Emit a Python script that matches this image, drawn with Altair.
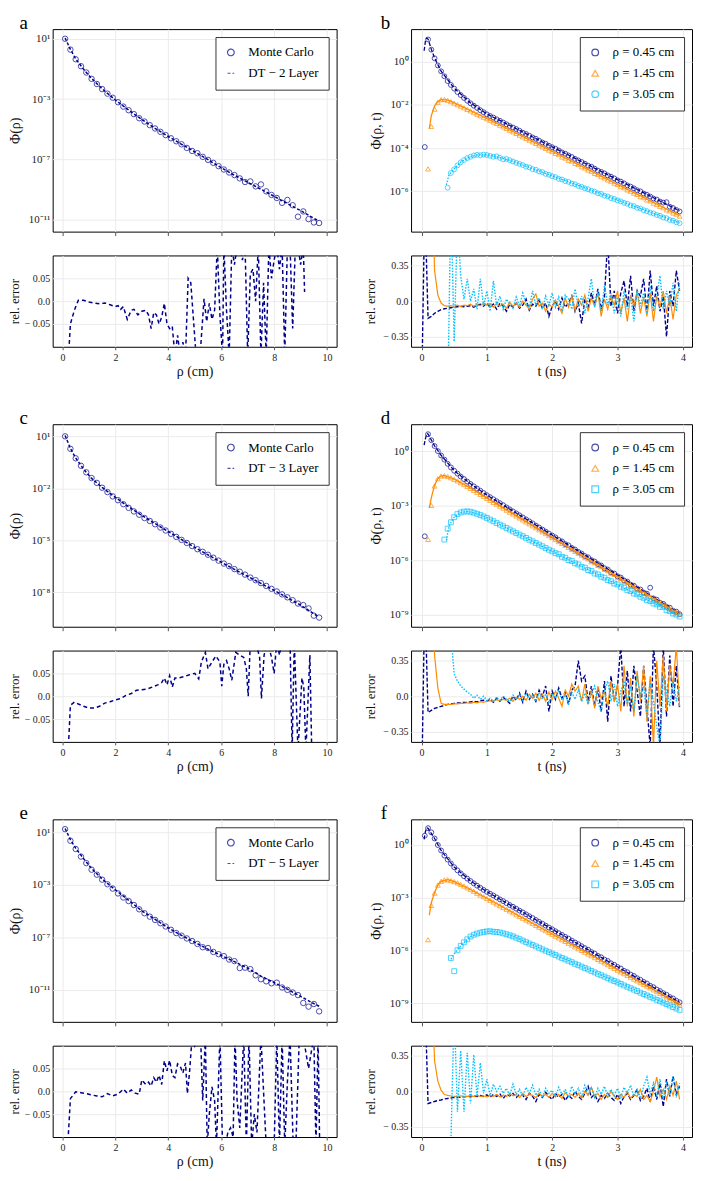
import altair as alt
import pandas as pd

NAVY = "#00008B"
ORANGE = "#FF8C00"
SKY = "#00BFFF"
SERIF = "Liberation Serif"

# ---------------- left column: steady-state  ----------------
RHO = [0.1, 0.3, 0.5, 0.7, 0.9, 1.1, 1.3, 1.5, 1.7, 1.9,
       2.1, 2.3, 2.5, 2.7, 2.9, 3.1, 3.3, 3.5, 3.7, 3.9,
       4.1, 4.3, 4.5, 4.7, 4.9, 5.1, 5.3, 5.5, 5.7, 5.9,
       6.1, 6.3, 6.5, 6.7, 6.9, 7.1, 7.3, 7.5, 7.7, 7.9,
       8.1, 8.3, 8.5, 8.7, 8.9, 9.1, 9.3, 9.5, 9.7]

# log10 of Phi(rho), Monte Carlo
MC_A = [1.0, 0.28, -0.36, -0.82, -1.24, -1.66, -2.0, -2.34, -2.64, -2.91,
        -3.21, -3.5, -3.74, -4.0, -4.27, -4.49, -4.73, -4.95, -5.17, -5.39,
        -5.6, -5.8, -6.0, -6.24, -6.44, -6.59, -6.83, -7.03, -7.23, -7.45,
        -7.67, -7.87, -8.04, -8.26, -8.5, -8.46, -8.79, -8.66, -9.12, -9.36,
        -9.56, -9.88, -9.69, -10.04, -10.8, -10.45, -10.96, -11.18, -11.22]
MC_C = [1.0, 0.28, -0.27, -0.7, -1.08, -1.41, -1.69, -1.97, -2.22, -2.47,
        -2.69, -2.92, -3.13, -3.34, -3.53, -3.72, -3.89, -4.08, -4.27, -4.44,
        -4.63, -4.81, -4.98, -5.16, -5.34, -5.52, -5.67, -5.84, -6.01, -6.18,
        -6.35, -6.5, -6.67, -6.82, -6.99, -7.16, -7.31, -7.48, -7.64, -7.81,
        -7.96, -8.13, -8.3, -8.47, -8.66, -8.75, -8.94, -9.36, -9.47]
MC_E = [1.25, 0.37, -0.26, -0.84, -1.34, -1.84, -2.22, -2.6, -2.95, -3.28,
        -3.65, -3.96, -4.23, -4.53, -4.86, -5.16, -5.42, -5.67, -5.92, -6.17,
        -6.42, -6.67, -6.87, -7.08, -7.28, -7.5, -7.75, -7.81, -8.11, -8.28,
        -8.43, -8.69, -8.81, -9.34, -9.31, -9.42, -9.89, -10.19, -10.35, -10.5,
        -10.45, -10.82, -11.0, -11.2, -11.4, -12.0, -12.28, -12.08, -12.64]

# diffusion theory curves (rho, log10 Phi)
DT_A = [(0.1, 1.05), (0.3, 0.3), (0.5, -0.33), (0.8, -1.03), (1.1, -1.63), (1.5, -2.32),
        (2.0, -3.06), (2.5, -3.73), (3.0, -4.36), (3.5, -4.94), (4.0, -5.48), (4.5, -6.0),
        (5.0, -6.5), (5.5, -7.02), (6.0, -7.55), (6.5, -8.05), (7.0, -8.52), (7.5, -8.98),
        (8.0, -9.45), (8.5, -9.93), (9.0, -10.4), (9.5, -10.9), (9.65, -11.05)]
DT_C = [(0.1, 1.05), (0.3, 0.3), (0.5, -0.25), (0.8, -0.9), (1.1, -1.43), (1.5, -1.95),
        (2.0, -2.53), (2.5, -3.07), (3.0, -3.57), (3.5, -4.04), (4.0, -4.5), (4.5, -4.96),
        (5.0, -5.42), (5.5, -5.85), (6.0, -6.27), (6.5, -6.69), (7.0, -7.09), (7.5, -7.5),
        (8.0, -7.9), (8.5, -8.32), (9.0, -8.75), (9.5, -9.25), (9.7, -9.45)]
DT_E = [(0.1, 1.3), (0.3, 0.45), (0.5, -0.2), (0.8, -1.0), (1.1, -1.75), (1.5, -2.55),
        (2.0, -3.38), (2.5, -4.17), (3.0, -4.98), (3.5, -5.62), (4.0, -6.28), (4.5, -6.85),
        (5.0, -7.38), (5.5, -7.9), (6.0, -8.38), (6.5, -8.85), (7.0, -9.35), (7.5, -9.95),
        (8.0, -10.45), (8.5, -10.95), (9.0, -11.5), (9.5, -12.05), (9.7, -12.25)]

# relative error (rho, value)
RES_A = [(0.15, -0.2), (0.3, -0.05), (0.45, -0.02), (0.6, 0.002), (0.8, 0.002), (1.0, -0.002),
         (1.2, -0.004), (1.4, -0.006), (1.6, -0.004), (1.8, -0.008), (2.0, -0.012), (2.1, -0.01),
         (2.2, -0.018), (2.3, -0.012), (2.45, -0.04), (2.6, -0.02), (2.7, -0.018), (2.85, -0.03),
         (3.0, -0.022), (3.15, -0.02), (3.25, -0.03), (3.35, -0.06), (3.45, -0.025), (3.55, -0.03),
         (3.65, -0.05), (3.75, -0.035), (3.85, -0.005), (3.95, -0.05), (4.05, -0.06), (4.15, -0.055),
         (4.25, -0.12), (4.35, -0.075), (4.45, -0.12), (4.55, -0.09), (4.65, -0.12), (4.75, 0.05),
         (4.85, 0.04), (4.95, -0.04), (5.05, -0.12), (5.2, -0.12), (5.35, 0.005), (5.45, -0.045),
         (5.55, -0.005), (5.65, -0.04), (5.75, -0.02), (5.85, 0.12), (5.95, -0.03), (6.05, -0.12),
         (6.1, 0.12), (6.2, -0.02), (6.3, -0.12), (6.4, 0.12), (6.5, 0.08), (6.6, 0.12), (6.7, 0.12),
         (6.8, 0.09), (6.9, 0.12), (7.0, -0.12), (7.1, 0.06), (7.2, 0.07), (7.3, 0.0), (7.4, 0.12),
         (7.5, -0.12), (7.6, 0.04), (7.7, -0.12), (7.8, 0.12), (7.9, 0.05), (8.0, 0.09), (8.1, 0.12),
         (8.2, 0.07), (8.3, 0.12), (8.4, -0.12), (8.5, 0.12), (8.6, 0.12), (8.7, -0.06), (8.8, 0.12),
         (8.9, 0.12), (9.0, 0.08), (9.1, 0.12), (9.15, 0.02)]
RES_C = [(0.15, -0.2), (0.3, -0.02), (0.45, -0.013), (0.6, -0.017), (0.8, -0.022), (1.0, -0.026),
         (1.2, -0.026), (1.4, -0.022), (1.6, -0.015), (1.8, -0.012), (2.0, -0.008), (2.2, -0.005),
         (2.4, 0.002), (2.6, 0.006), (2.8, 0.013), (3.0, 0.014), (3.2, 0.016), (3.4, 0.02),
         (3.6, 0.025), (3.75, 0.03), (3.85, 0.04), (3.95, 0.025), (4.05, 0.045), (4.15, 0.02),
         (4.25, 0.04), (4.4, 0.04), (4.6, 0.043), (4.8, 0.047), (5.0, 0.05), (5.15, 0.038),
         (5.25, 0.075), (5.4, 0.096), (5.5, 0.06), (5.65, 0.075), (5.8, 0.088), (5.95, 0.075),
         (6.02, 0.022), (6.1, 0.07), (6.2, 0.078), (6.3, 0.06), (6.4, 0.035), (6.55, 0.096),
         (6.7, 0.09), (6.85, 0.085), (6.95, 0.06), (7.02, 0.0), (7.1, 0.12), (7.3, 0.12),
         (7.45, 0.085), (7.52, -0.005), (7.62, 0.09), (7.75, 0.12), (7.9, 0.085), (8.0, 0.05),
         (8.1, 0.12), (8.2, 0.09), (8.3, 0.12), (8.6, 0.12), (8.68, -0.12), (8.76, 0.12),
         (8.9, -0.12), (9.05, 0.04), (9.12, 0.02), (9.2, -0.12), (9.35, 0.09), (9.42, -0.12)]
RES_E = [(0.12, -0.2), (0.3, -0.016), (0.5, -0.001), (0.7, -0.003), (0.9, -0.005), (1.1, -0.008),
         (1.3, -0.01), (1.5, -0.012), (1.7, -0.005), (1.9, -0.01), (2.1, -0.006), (2.3, 0.005),
         (2.45, -0.004), (2.6, 0.003), (2.75, -0.004), (2.9, -0.006), (3.0, 0.025), (3.15, 0.015),
         (3.25, 0.02), (3.35, 0.012), (3.45, 0.03), (3.55, 0.02), (3.65, 0.035), (3.75, 0.015),
         (3.85, 0.067), (3.95, 0.045), (4.05, 0.068), (4.15, 0.035), (4.25, 0.03), (4.35, 0.06),
         (4.45, 0.055), (4.55, 0.04), (4.65, 0.062), (4.72, -0.005), (4.8, 0.04), (4.9, 0.12),
         (5.0, 0.1), (5.1, 0.12), (5.22, 0.12), (5.3, -0.02), (5.4, 0.12), (5.47, -0.12),
         (5.55, -0.05), (5.65, 0.01), (5.75, -0.02), (5.82, -0.12), (5.95, 0.12), (6.05, -0.12),
         (6.15, -0.12), (6.25, -0.09), (6.35, -0.08), (6.45, -0.1), (6.52, 0.12), (6.6, -0.02),
         (6.7, -0.08), (6.85, 0.12), (6.95, -0.12), (7.05, 0.12), (7.15, -0.12), (7.25, -0.05),
         (7.35, -0.09), (7.5, 0.12), (7.62, -0.025), (7.7, -0.12), (7.85, -0.12), (8.0, -0.12),
         (8.1, 0.12), (8.2, -0.12), (8.3, 0.12), (8.4, -0.12), (8.5, 0.02), (8.6, 0.12),
         (8.72, -0.12), (8.82, -0.12), (8.95, 0.12), (9.1, 0.12), (9.3, 0.05), (9.5, 0.12),
         (9.58, -0.12), (9.66, 0.12), (9.72, -0.12)]

# ---------------- right column: time resolved ----------------
TG = [0.05, 0.1, 0.15, 0.2, 0.25, 0.3, 0.35, 0.4, 0.45, 0.5,
      0.55, 0.6, 0.65, 0.7, 0.75, 0.8, 0.85, 0.9, 0.95, 1.0,
      1.05, 1.1, 1.15, 1.2, 1.25, 1.3, 1.35, 1.4, 1.45, 1.5,
      1.55, 1.6, 1.65, 1.7, 1.75, 1.8, 1.85, 1.9, 1.95, 2.0,
      2.05, 2.1, 2.15, 2.2, 2.25, 2.3, 2.35, 2.4, 2.45, 2.5,
      2.55, 2.6, 2.65, 2.7, 2.75, 2.8, 2.85, 2.9, 2.95, 3.0,
      3.05, 3.1, 3.15, 3.2, 3.25, 3.3, 3.35, 3.4, 3.45, 3.5,
      3.55, 3.6, 3.65, 3.7, 3.75, 3.8, 3.85, 3.9, 3.95]
N = None
# log10 Phi(rho, t) Monte Carlo, panel b
B_N = [-3.95, 1.02, 0.55, 0.15, -0.18, -0.45, -0.68, -0.9, -1.08, -1.25,
       -1.41, -1.55, -1.68, -1.81, -1.93, -2.04, -2.14, -2.25, -2.34, -2.44,
       -2.52, -2.59, -2.67, -2.74, -2.82, -2.9, -2.98, -3.05, -3.12, -3.2,
       -3.29, -3.35, -3.43, -3.51, -3.57, -3.66, -3.74, -3.8, -3.89, -3.96,
       -4.03, -4.11, -4.2, -4.26, -4.34, -4.41, -4.5, -4.57, -4.64, -4.72,
       -4.81, -4.86, -4.95, -5.04, -5.1, -5.17, -5.26, -5.32, -5.4, -5.49,
       -5.55, -5.63, -5.72, -5.78, -5.86, -5.95, -6.0, -6.1, -6.16, -6.24,
       -6.33, -6.38, -6.47, -6.52, -6.5, -6.71, -6.77, -6.86, -6.93]
B_O = [N, -4.96, -3.0, -2.2, -1.88, -1.76, -1.75, -1.79, -1.85, -1.92,
       -1.99, -2.06, -2.14, -2.21, -2.28, -2.36, -2.43, -2.5, -2.57, -2.64,
       -2.71, -2.79, -2.86, -2.94, -3.02, -3.09, -3.17, -3.25, -3.32, -3.4,
       -3.48, -3.55, -3.63, -3.71, -3.78, -3.86, -3.94, -4.01, -4.09, -4.16,
       -4.24, -4.3, -4.41, -4.46, -4.56, -4.6, -4.71, -4.76, -4.86, -4.92,
       -5.01, -5.07, -5.17, -5.22, -5.32, -5.38, -5.47, -5.53, -5.62, -5.68,
       -5.78, -5.83, -5.93, -5.99, -6.08, -6.14, -6.24, -6.29, -6.39, -6.44,
       -6.54, -6.6, -6.69, -6.75, -6.85, -6.9, -7.0, -7.05, -7.14]
B_C = [N, N, N, N, N, N, N, -5.83, -5.15, -4.98,
       -4.8, -4.66, -4.55, -4.46, -4.4, -4.34, -4.31, -4.33, -4.3, -4.32,
       -4.36, -4.4, -4.38, -4.45, -4.52, -4.5, -4.56, -4.62, -4.68, -4.73,
       -4.78, -4.86, -4.89, -4.97, -5.0, -5.08, -5.11, -5.19, -5.23, -5.3,
       -5.34, -5.42, -5.45, -5.53, -5.56, -5.64, -5.67, -5.75, -5.79, -5.86,
       -5.9, -5.97, -6.01, -6.09, -6.12, -6.2, -6.23, -6.31, -6.35, -6.42,
       -6.46, -6.53, -6.57, -6.65, -6.68, -6.76, -6.79, -6.87, -6.91, -6.98,
       -7.02, -7.09, -7.13, -7.21, -7.24, -7.32, -7.35, -7.43, -7.47]
# panel d
D_N = [-4.67, 0.95, 0.62, 0.3, 0.02, -0.22, -0.45, -0.68, -0.88, -1.06,
       -1.22, -1.38, -1.52, -1.66, -1.79, -1.92, -2.04, -2.16, -2.29, -2.41,
       -2.52, -2.63, -2.74, -2.85, -2.96, -3.08, -3.19, -3.3, -3.41, -3.52,
       -3.63, -3.74, -3.85, -3.96, -4.08, -4.19, -4.3, -4.41, -4.52, -4.63,
       -4.73, -4.87, -4.95, -5.1, -5.17, -5.31, -5.4, -5.53, -5.62, -5.76,
       -5.83, -5.98, -6.06, -6.2, -6.28, -6.43, -6.5, -6.66, -6.72, -6.87,
       -6.94, -7.1, -7.17, -7.33, -7.39, -7.55, -7.6, -7.77, -7.83, -7.5,
       -8.09, -8.16, -8.33, -8.39, -8.55, -8.6, -8.77, -8.82, -8.96]
D_O = [N, -4.84, -2.97, -1.9, -1.5, -1.35, -1.33, -1.38, -1.45, -1.53,
       -1.62, -1.72, -1.82, -1.92, -2.03, -2.14, -2.25, -2.36, -2.47, -2.58,
       -2.69, -2.8, -2.9, -3.01, -3.12, -3.23, -3.34, -3.44, -3.55, -3.66,
       -3.77, -3.88, -3.98, -4.09, -4.2, -4.31, -4.42, -4.52, -4.63, -4.74,
       -4.85, -4.96, -5.06, -5.17, -5.28, -5.39, -5.5, -5.6, -5.71, -5.82,
       -5.91, -6.06, -6.12, -6.27, -6.34, -6.49, -6.56, -6.7, -6.77, -6.92,
       -6.99, -7.14, -7.2, -7.35, -7.42, -7.57, -7.64, -7.78, -7.85, -8.0,
       -8.07, -8.22, -8.28, -8.43, -8.5, -8.65, -8.72, -8.86, -8.95]
D_C = [N, N, N, N, N, N, -4.85, -4.25, -3.9, -3.62,
       -3.45, -3.36, -3.31, -3.3, -3.32, -3.37, -3.43, -3.5, -3.58, -3.66,
       -3.75, -3.84, -3.94, -4.03, -4.12, -4.21, -4.3, -4.4, -4.49, -4.58,
       -4.67, -4.76, -4.86, -4.95, -5.04, -5.13, -5.22, -5.32, -5.41, -5.5,
       -5.6, -5.66, -5.8, -5.85, -5.98, -6.03, -6.16, -6.22, -6.35, -6.4,
       -6.53, -6.58, -6.72, -6.77, -6.9, -6.95, -7.08, -7.14, -7.27, -7.32,
       -7.45, -7.5, -7.64, -7.69, -7.82, -7.87, -8.0, -8.06, -8.19, -8.24,
       -8.37, -8.42, -8.56, -8.55, -8.74, -8.79, -8.92, -8.98, -9.09]
# panel f
F_N = [0.51, 0.94, 0.7, 0.35, -0.02, -0.33, -0.62, -0.85, -1.07, -1.28,
       -1.46, -1.63, -1.79, -1.93, -2.07, -2.2, -2.33, -2.45, -2.57, -2.68,
       -2.79, -2.89, -3.0, -3.11, -3.21, -3.32, -3.43, -3.53, -3.64, -3.75,
       -3.85, -3.96, -4.07, -4.17, -4.28, -4.39, -4.49, -4.6, -4.71, -4.81,
       -4.92, -5.03, -5.13, -5.24, -5.34, -5.45, -5.56, -5.66, -5.77, -5.88,
       -5.97, -6.1, -6.19, -6.32, -6.4, -6.53, -6.61, -6.74, -6.83, -6.95,
       -7.04, -7.17, -7.25, -7.38, -7.46, -7.59, -7.68, -7.8, -7.89, -8.02,
       -8.1, -8.23, -8.32, -8.44, -8.53, -8.66, -8.74, -8.87, -8.96]
F_O = [N, -5.4, -3.45, -2.75, -2.3, -2.08, -2.0, -1.99, -2.04, -2.1,
       -2.17, -2.26, -2.35, -2.45, -2.55, -2.65, -2.76, -2.86, -2.96, -3.06,
       -3.16, -3.26, -3.37, -3.47, -3.57, -3.67, -3.77, -3.87, -3.98, -4.08,
       -4.18, -4.28, -4.38, -4.48, -4.59, -4.69, -4.79, -4.89, -4.99, -5.09,
       -5.2, -5.3, -5.4, -5.5, -5.6, -5.7, -5.81, -5.91, -6.01, -6.11,
       -6.21, -6.31, -6.42, -6.52, -6.62, -6.72, -6.82, -6.92, -7.03, -7.13,
       -7.23, -7.33, -7.43, -7.53, -7.64, -7.74, -7.84, -7.94, -8.04, -8.14,
       -8.25, -8.35, -8.45, -8.55, -8.65, -8.75, -8.86, -8.96, -9.06]
F_C = [N, N, N, N, N, N, N, N, -6.44, -7.19,
       -6.0, -5.75, -5.55, -5.38, -5.22, -5.12, -5.05, -5.0, -4.96, -4.93,
       -4.92, -4.95, -4.96, -4.99, -5.04, -5.09, -5.15, -5.21, -5.29, -5.37,
       -5.45, -5.54, -5.62, -5.7, -5.78, -5.86, -5.95, -6.03, -6.11, -6.19,
       -6.27, -6.36, -6.44, -6.52, -6.6, -6.68, -6.77, -6.85, -6.93, -7.01,
       -7.09, -7.18, -7.26, -7.34, -7.42, -7.5, -7.59, -7.67, -7.75, -7.83,
       -7.91, -8.0, -8.08, -8.16, -8.24, -8.32, -8.41, -8.49, -8.57, -8.65,
       -8.73, -8.82, -8.9, -8.98, -9.06, -9.14, -9.23, -9.31, -9.39]

# diffusion theory curves (t, log10 Phi)
DTB_N = [(0.04, 0.5), (0.06, 0.95), (0.08, 1.08), (0.1, 1.04), (0.15, 0.57), (0.2, 0.16),
         (0.3, -0.44), (0.5, -1.23), (0.75, -1.91), (1.0, -2.42), (2.0, -3.94), (3.0, -5.46), (3.95, -6.9)]
DTB_O = [(0.12, -3.1), (0.15, -2.5), (0.2, -2.05), (0.25, -1.85), (0.3, -1.76), (0.4, -1.78),
         (0.5, -1.91), (0.75, -2.27), (1.0, -2.63), (2.0, -4.15), (3.0, -5.68), (3.95, -7.12)]
DTB_C = [(0.38, -5.7), (0.42, -5.25), (0.5, -4.96), (0.6, -4.65), (0.7, -4.46), (0.85, -4.31),
         (1.0, -4.31), (1.2, -4.44), (1.4, -4.61), (2.0, -5.28), (3.0, -6.4), (3.95, -7.46)]
DTD_N = [(0.04, 0.35), (0.06, 0.7), (0.08, 0.98), (0.1, 0.96), (0.2, 0.31), (0.3, -0.21),
         (0.5, -1.05), (0.75, -1.78), (1.0, -2.4), (2.0, -4.6), (3.0, -6.8), (3.95, -8.93)]
DTD_O = [(0.12, -3.1), (0.15, -2.55), (0.2, -1.85), (0.25, -1.5), (0.3, -1.35), (0.35, -1.33),
         (0.5, -1.52), (0.75, -2.02), (1.0, -2.57), (2.0, -4.73), (3.0, -6.89), (3.95, -8.95)]
DTD_C = [(0.38, -4.9), (0.42, -4.1), (0.5, -3.62), (0.6, -3.36), (0.7, -3.3), (0.85, -3.42),
         (1.0, -3.65), (2.0, -5.5), (3.0, -7.34), (3.95, -9.08)]
DTF_N = [(0.04, 0.3), (0.06, 0.75), (0.08, 0.95), (0.1, 0.93), (0.2, 0.35), (0.3, -0.33),
         (0.5, -1.27), (0.75, -2.06), (1.0, -2.67), (2.0, -4.8), (3.0, -6.94), (3.95, -8.96)]
DTF_O = [(0.12, -4.0), (0.15, -3.3), (0.2, -2.72), (0.25, -2.3), (0.3, -2.08), (0.4, -1.99),
         (0.5, -2.1), (0.75, -2.55), (1.0, -3.05), (2.0, -5.08), (3.0, -7.11), (3.95, -9.05)]
DTF_C = [(0.45, -6.5), (0.5, -6.2), (0.6, -5.75), (0.75, -5.22), (0.9, -5.0), (1.05, -4.92),
         (1.2, -4.99), (1.4, -5.2), (2.0, -6.18), (3.0, -7.82), (3.95, -9.38)]

# relative error on TR = [0.0] + TG
TR = [0.0] + TG
RB_N = [-1.0,
        1.0, -0.17, -0.15, -0.12, -0.1, -0.085, -0.075, -0.07, -0.065, -0.06,
        -0.055, -0.05, -0.055, -0.05, -0.045, -0.06, -0.04, -0.03, -0.05, -0.02,
        -0.06, -0.03, -0.08, -0.02, -0.05, -0.1, -0.03, -0.06, -0.02, -0.07,
        -0.04, 0.02, -0.09, -0.03, -0.05, 0.01, -0.07, -0.02, -0.15, -0.05,
        0.0, -0.08, 0.03, -0.06, -0.02, 0.05, -0.1, -0.02, -0.22, 0.02,
        -0.06, 0.08, -0.04, 0.12, -0.08, 0.05, 0.6, -0.05, 0.1, -0.12,
        0.08, 0.2, -0.05, 0.25, -0.1, 0.1, 0.05, 0.22, -0.12, 0.3,
        -0.05, 0.15, -0.1, 0.05, -0.35, 0.1, -0.05, 0.3, 0.1]
RB_O = [N,
        N, N, 1.5, 0.3, 0.06, -0.02, -0.045, -0.05, -0.045, -0.05,
        -0.04, -0.055, -0.04, -0.045, -0.03, -0.05, -0.035, -0.045, -0.02, -0.04,
        -0.03, -0.06, -0.02, -0.05, -0.03, -0.07, -0.01, -0.05, -0.02, -0.06,
        0.0, -0.04, -0.08, 0.02, 0.07, -0.05, -0.02, -0.1, -0.03, -0.06,
        0.01, -0.05, -0.12, 0.03, -0.06, 0.05, -0.09, 0.02, -0.04, 0.06,
        -0.1, 0.03, -0.05, 0.08, -0.15, 0.02, -0.08, 0.05, -0.04, 0.1,
        -0.12, 0.03, -0.2, 0.06, -0.05, 0.1, -0.12, 0.04, -0.15, 0.08,
        -0.2, 0.05, -0.06, 0.1, -0.12, 0.05, -0.18, 0.06, 0.12]
RB_C = [N,
        N, N, N, N, N, N, N, -1.0, 1.0, -0.4,
        0.8, 0.25, 0.02, 0.22, 0.0, 0.12, -0.08, 0.22, -0.05, 0.1,
        -0.1, 0.2, -0.04, 0.05, -0.08, 0.02, -0.03, -0.07, 0.04, -0.05,
        0.08, -0.02, -0.06, 0.1, -0.04, 0.03, -0.08, 0.05, -0.04, 0.08,
        -0.06, 0.04, -0.1, 0.06, 0.02, -0.08, 0.12, -0.05, 0.05, -0.12,
        0.03, 0.22, -0.06, 0.1, -0.1, 0.15, -0.04, 0.08, -0.12, 0.04,
        -0.15, 0.1, -0.08, 0.05, -0.2, 0.12, -0.05, 0.08, -0.12, 0.15,
        -0.1, 0.05, 0.25, -0.08, 0.1, -0.05, 0.18, -0.1, 0.2]
RD_N = [-1.0,
        1.0, -0.16, -0.14, -0.12, -0.11, -0.1, -0.09, -0.08, -0.075, -0.07,
        -0.065, -0.065, -0.06, -0.06, -0.055, -0.05, -0.055, -0.045, -0.04, -0.05,
        -0.03, -0.06, -0.02, -0.05, -0.01, -0.04, -0.07, 0.0, -0.04, 0.03,
        -0.06, 0.05, -0.03, 0.02, -0.05, 0.06, 0.0, 0.1, -0.15, 0.05,
        -0.03, 0.08, -0.02, 0.04, -0.08, 0.06, 0.1, 0.35, 0.15, 0.2,
        -0.05, 0.1, -0.1, 0.08, -0.15, 0.15, -0.25, 0.2, -0.05, 0.1,
        0.5, -0.1, 0.25, -0.15, 0.3, 0.05, -0.2, 0.3, -0.1, -0.5,
        0.5, 0.1, -0.5, 0.5, -0.2, 0.4, -0.1, 0.3, -0.12]
RD_O = [N,
        N, N, 1.2, 0.4, 0.08, -0.07, -0.08, -0.08, -0.08, -0.075,
        -0.075, -0.07, -0.07, -0.065, -0.07, -0.06, -0.065, -0.055, -0.06, -0.05,
        -0.045, -0.05, -0.035, -0.045, -0.03, -0.04, -0.02, -0.05, -0.01, -0.03,
        0.0, -0.04, 0.02, -0.02, 0.03, -0.04, 0.02, -0.05, 0.04, -0.03,
        0.05, -0.02, -0.1, 0.06, 0.0, 0.12, 0.05, 0.1, -0.05, 0.12,
        -0.08, 0.06, -0.12, 0.1, -0.02, 0.05, -0.1, 0.15, -0.05, 0.12,
        -0.15, 0.3, -0.1, 0.18, -0.2, 0.25, -0.05, 0.3, -0.25, 0.2,
        -0.5, 0.35, -0.1, 0.4, -0.15, 0.3, 0.1, 0.5, -0.1]
RD_C = [N,
        N, N, N, N, N, N, N, N, 0.6, 0.22,
        0.15, 0.1, 0.07, 0.04, 0.02, -0.02, 0.01, -0.03, 0.0, -0.04,
        -0.02, -0.05, -0.01, -0.04, 0.0, -0.03, -0.05, 0.01, -0.03, 0.02,
        -0.04, 0.03, -0.02, 0.01, -0.05, 0.04, -0.03, 0.02, -0.06, 0.03,
        -0.02, 0.05, -0.04, 0.02, -0.07, 0.04, -0.03, 0.06, -0.05, 0.03,
        -0.08, 0.02, 0.1, -0.06, -0.15, 0.05, 0.15, -0.05, 0.12, -0.1,
        0.05, 0.15, -0.08, 0.1, -0.15, 0.2, 0.0, 0.1, -0.2, 0.15,
        -0.05, -0.3, -0.5, 0.2, 0.05, -0.1, 0.15, -0.05, 0.1]
RF_N = [N,
        1.0, -0.12, -0.11, -0.1, -0.09, -0.085, -0.075, -0.07, -0.065, -0.06,
        -0.06, -0.055, -0.055, -0.05, -0.05, -0.045, -0.05, -0.04, -0.05, -0.035,
        -0.06, -0.03, -0.05, -0.025, -0.07, -0.03, -0.045, -0.02, -0.06, -0.03,
        -0.04, -0.08, -0.02, -0.05, -0.1, -0.03, -0.06, -0.01, -0.05, -0.08,
        -0.02, -0.06, -0.03, -0.09, -0.04, -0.07, 0.0, -0.05, -0.08, -0.02,
        0.05, -0.06, -0.03, -0.1, -0.04, -0.07, -0.02, -0.06, -0.09, -0.03,
        -0.12, -0.05, -0.02, -0.08, -0.04, 0.02, -0.09, -0.05, 0.03, -0.1,
        0.05, -0.08, 0.08, -0.15, 0.12, -0.05, 0.15, -0.03, 0.05]
RF_O = [N,
        N, N, 1.2, 0.3, 0.1, 0.01, -0.03, -0.04, -0.045, -0.05,
        -0.05, -0.045, -0.05, -0.05, -0.045, -0.05, -0.04, -0.05, -0.045, -0.055,
        -0.04, -0.05, -0.03, -0.055, -0.035, -0.05, -0.02, -0.045, -0.03, -0.06,
        -0.02, -0.05, -0.03, -0.04, -0.06, -0.02, -0.05, -0.03, -0.06, -0.02,
        -0.05, -0.03, -0.07, -0.01, -0.05, -0.03, -0.06, -0.02, -0.07, 0.0,
        -0.04, 0.04, -0.05, -0.02, -0.08, -0.03, -0.06, 0.0, -0.05, -0.08,
        -0.03, -0.06, 0.0, -0.07, -0.03, -0.05, 0.02, -0.08, -0.04, -0.1,
        0.0, 0.14, -0.05, 0.02, -0.08, 0.05, -0.04, 0.1, -0.08]
RF_C = [N,
        N, N, N, N, N, N, N, N, -0.5, 0.8,
        -0.2, 0.4, -0.2, 0.38, -0.12, 0.36, -0.05, 0.28, -0.02, 0.12,
        -0.04, 0.07, 0.0, 0.05, -0.02, 0.03, -0.04, 0.07, -0.03, 0.02,
        -0.05, 0.04, -0.02, 0.06, -0.04, 0.02, -0.06, 0.03, -0.02, 0.01,
        -0.05, 0.04, -0.03, 0.02, -0.06, 0.05, -0.02, 0.03, -0.05, 0.06,
        -0.02, 0.04, -0.06, 0.03, -0.03, 0.05, -0.05, 0.02, -0.04, 0.03,
        -0.06, 0.04, -0.02, 0.06, -0.05, 0.02, -0.07, 0.05, 0.14, -0.03,
        0.08, -0.05, 0.12, -0.08, 0.1, -0.04, 0.15, -0.06, 0.08]

RHO_LABELS = ["ρ = 0.45 cm", "ρ = 1.45 cm", "ρ = 3.05 cm"]

# ---------------- helpers ----------------
SUP = str.maketrans("0123456789-", "⁰¹²³⁴⁵⁶⁷⁸⁹⁻")
LW, RW, MH, RH = 286, 283, 204, 92


def pow_expr(exps):
    expr = "''"
    for e in exps:
        lab = "10" + str(e).translate(SUP)
        expr = f"round(log(datum.value)/LN10) == {e} ? '{lab}' : ({expr})"
    return expr


def legend():
    return alt.Legend(title=None, orient="top-right", offset=8, padding=9, rowPadding=7,
                      strokeColor="#333", fillColor="white", labelFont=SERIF, labelFontSize=13,
                      labelOffset=11, symbolSize=45, symbolStrokeWidth=1.2)


def letter_axis(letter, dx):
    # top axis carrying only the panel letter as its title
    return alt.Axis(orient="top", title=letter, labels=False, ticks=False, domain=False, grid=False,
                    titleX=dx, titleY=-1, titleAlign="left", titleBaseline="alphabetic",
                    titleAngle=0, titleFontSize=19, titleFont=SERIF, titleColor="black",
                    titleFontWeight="normal")


def left_main(letter, mc, dt, dt_label, lo, hi, exps):
    kinds = ["Monte Carlo", dt_label]
    mc_df = pd.DataFrame({"x": RHO, "y": [10 ** v for v in mc], "k": kinds[0]})
    dt_df = pd.DataFrame({"x": [p[0] for p in dt], "y": [10 ** p[1] for p in dt], "k": kinds[1]})
    xs = alt.Scale(domain=[-0.37, 10.36], nice=False, zero=False)
    xb = alt.X("x:Q", scale=xs, axis=alt.Axis(values=[0, 2, 4, 6, 8, 10], labels=False, title=None,
                                               ticks=True, tickSize=4, grid=True))
    xt = alt.X("x:Q", scale=xs, axis=letter_axis(letter, -34))
    ye = alt.Y("y:Q", scale=alt.Scale(type="log", domain=[10 ** lo, 10 ** hi], nice=False),
               axis=alt.Axis(values=[10.0 ** e for e in exps], labelExpr=pow_expr(exps),
                             title="Φ(ρ)", grid=True, ticks=False, minExtent=26, maxExtent=26,
                             titlePadding=4, labelFontSize=11))
    leg = legend()
    col = alt.Color("k:N", scale=alt.Scale(domain=kinds, range=[NAVY, NAVY]), legend=leg)
    pts = alt.Chart(mc_df).mark_point(filled=False, size=30, strokeWidth=1).encode(
        x=xb, y=ye, color=col,
        shape=alt.Shape("k:N", scale=alt.Scale(domain=kinds, range=["circle", "stroke"]), legend=leg))
    line = alt.Chart(dt_df).mark_line(strokeWidth=1.5).encode(
        x=xt, y=ye, color=col,
        strokeDash=alt.StrokeDash("k:N", scale=alt.Scale(domain=kinds, range=[[1, 0], [3, 2]]), legend=leg))
    return alt.layer(line, pts).resolve_axis(x="independent").properties(width=LW, height=MH)


def left_resid(res):
    df = pd.DataFrame({"x": [p[0] for p in res], "e": [p[1] for p in res]})
    return alt.Chart(df).mark_line(color=NAVY, strokeDash=[4, 3], strokeWidth=1.5, clip=True).encode(
        x=alt.X("x:Q", scale=alt.Scale(domain=[-0.37, 10.36], nice=False, zero=False),
                axis=alt.Axis(values=[0, 2, 4, 6, 8, 10], title="ρ (cm)", grid=True, tickSize=3,
                              labelFlush=False, titlePadding=2)),
        y=alt.Y("e:Q", scale=alt.Scale(domain=[-0.1, 0.1], nice=False, zero=False),
                axis=alt.Axis(values=[-0.05, 0, 0.05], title="rel. error", grid=True, ticks=False,
                              labelExpr="datum.value == 0 ? '0.0' : (datum.value < 0 ? '− 0.05' : '0.05')",
                              minExtent=28, maxExtent=28, titlePadding=3, titleFontSize=13)),
    ).properties(width=LW, height=RH)


TX = alt.Scale(domain=[-0.16, 4.14], nice=False, zero=False)


def right_main(letter, series, shapes, dts, lo, hi, exps):
    rows = []
    for lab, vals in zip(RHO_LABELS, series):
        for t, v in zip(TG, vals):
            if v is not None:
                rows.append({"t": t, "y": 10 ** v, "s": lab})
    xb = alt.X("t:Q", scale=TX, axis=alt.Axis(values=[0, 1, 2, 3, 4], labels=False, title=None,
                                               ticks=True, tickSize=4, grid=True))
    xt = alt.X("t:Q", scale=TX, axis=letter_axis(letter, -31))
    xn = alt.X("t:Q", scale=TX, axis=None)
    ye = alt.Y("y:Q", scale=alt.Scale(type="log", domain=[10 ** lo, 10 ** hi], nice=False),
               axis=alt.Axis(values=[10.0 ** e for e in exps], labelExpr=pow_expr(exps),
                             title="Φ(ρ, t)", grid=True, ticks=False, minExtent=24, maxExtent=24,
                             titlePadding=4, labelFontSize=11))
    leg = legend()
    pts = alt.Chart(pd.DataFrame(rows)).mark_point(filled=False, size=24, strokeWidth=1).encode(
        x=xb, y=ye,
        color=alt.Color("s:N", scale=alt.Scale(domain=RHO_LABELS, range=[NAVY, ORANGE, SKY]), legend=leg),
        shape=alt.Shape("s:N", scale=alt.Scale(domain=RHO_LABELS, range=shapes), legend=leg))
    lines = []
    for i, (dt, c, d) in enumerate(zip(dts, [NAVY, ORANGE, SKY], [[4, 2], [1, 0], [1.5, 1.5]])):
        df = pd.DataFrame({"t": [p[0] for p in dt], "y": [10 ** p[1] for p in dt]})
        lines.append(alt.Chart(df).mark_line(color=c, strokeDash=d, strokeWidth=1.3).encode(
            x=xt if i == 0 else xn, y=ye))
    return alt.layer(pts, *lines).resolve_axis(x="independent").properties(width=RW, height=MH)


def right_resid(res):
    layers = []
    for vals, c, d, w in zip(res, [NAVY, ORANGE, SKY], [[4, 2], [1, 0], [1.5, 1.5]], [1.4, 1.2, 1.4]):
        pairs = [(t, v) for t, v in zip(TR, vals) if v is not None]
        df = pd.DataFrame({"t": [p[0] for p in pairs], "e": [p[1] for p in pairs]})
        layers.append(alt.Chart(df).mark_line(color=c, strokeDash=d, strokeWidth=w, clip=True).encode(
            x=alt.X("t:Q", scale=TX, axis=alt.Axis(values=[0, 1, 2, 3, 4], title="t (ns)", grid=True,
                                                   tickSize=3, labelFlush=False, titlePadding=2)),
            y=alt.Y("e:Q", scale=alt.Scale(domain=[-0.45, 0.45], nice=False, zero=False),
                    axis=alt.Axis(values=[-0.35, 0, 0.35], title="rel. error", grid=True, ticks=False,
                                  labelExpr="datum.value == 0 ? '0.0' : (datum.value < 0 ? '− 0.35' : '0.35')",
                                  minExtent=30, maxExtent=30, titlePadding=4, titleFontSize=13))))
    return alt.layer(*layers).properties(width=RW, height=RH)


IND = dict(color="independent", shape="independent", strokeDash="independent")


def column(main, resid):
    return alt.vconcat(main, resid, spacing=18).resolve_scale(**IND)


def row(lm, lr, rm, rr):
    return alt.hconcat(column(lm, lr), column(rm, rr), spacing=26).resolve_scale(**IND)


row1 = row(left_main("a", MC_A, DT_A, "DT − 2 Layer", -11.79, 1.64, [1, -3, -7, -11]),
           left_resid(RES_A),
           right_main("b", [B_N, B_O, B_C], ["circle", "triangle-up", "circle"],
                      [DTB_N, DTB_O, DTB_C], -7.86, 1.5, [0, -2, -4, -6]),
           right_resid([RB_N, RB_O, RB_C]))
row2 = row(left_main("c", MC_C, DT_C, "DT − 3 Layer", -10.0, 1.7, [1, -2, -5, -8]),
           left_resid(RES_C),
           right_main("d", [D_N, D_O, D_C], ["circle", "triangle-up", "square"],
                      [DTD_N, DTD_O, DTD_C], -9.65, 1.5, [0, -3, -6, -9]),
           right_resid([RD_N, RD_O, RD_C]))
row3 = row(left_main("e", MC_E, DT_E, "DT − 5 Layer", -13.44, 2.0, [1, -3, -7, -11]),
           left_resid(RES_E),
           right_main("f", [F_N, F_O, F_C], ["circle", "triangle-up", "square"],
                      [DTF_N, DTF_O, DTF_C], -10.07, 1.44, [0, -3, -6, -9]),
           right_resid([RF_N, RF_O, RF_C]))

chart = alt.vconcat(row1, row2, row3, spacing=28).resolve_scale(**IND).properties(
    padding=0
).configure(font=SERIF, padding=0).configure_view(stroke="black", strokeWidth=1).configure_axis(
    labelFont=SERIF, titleFont=SERIF, labelColor="#222", titleColor="#111", gridColor="#ebebeb",
    domain=False, tickColor="#555", labelFontSize=10, titleFontSize=14, titleFontWeight="normal",
    labelPadding=3
)

chart.save("out.html", embed_options={"renderer": "svg", "actions": False})
